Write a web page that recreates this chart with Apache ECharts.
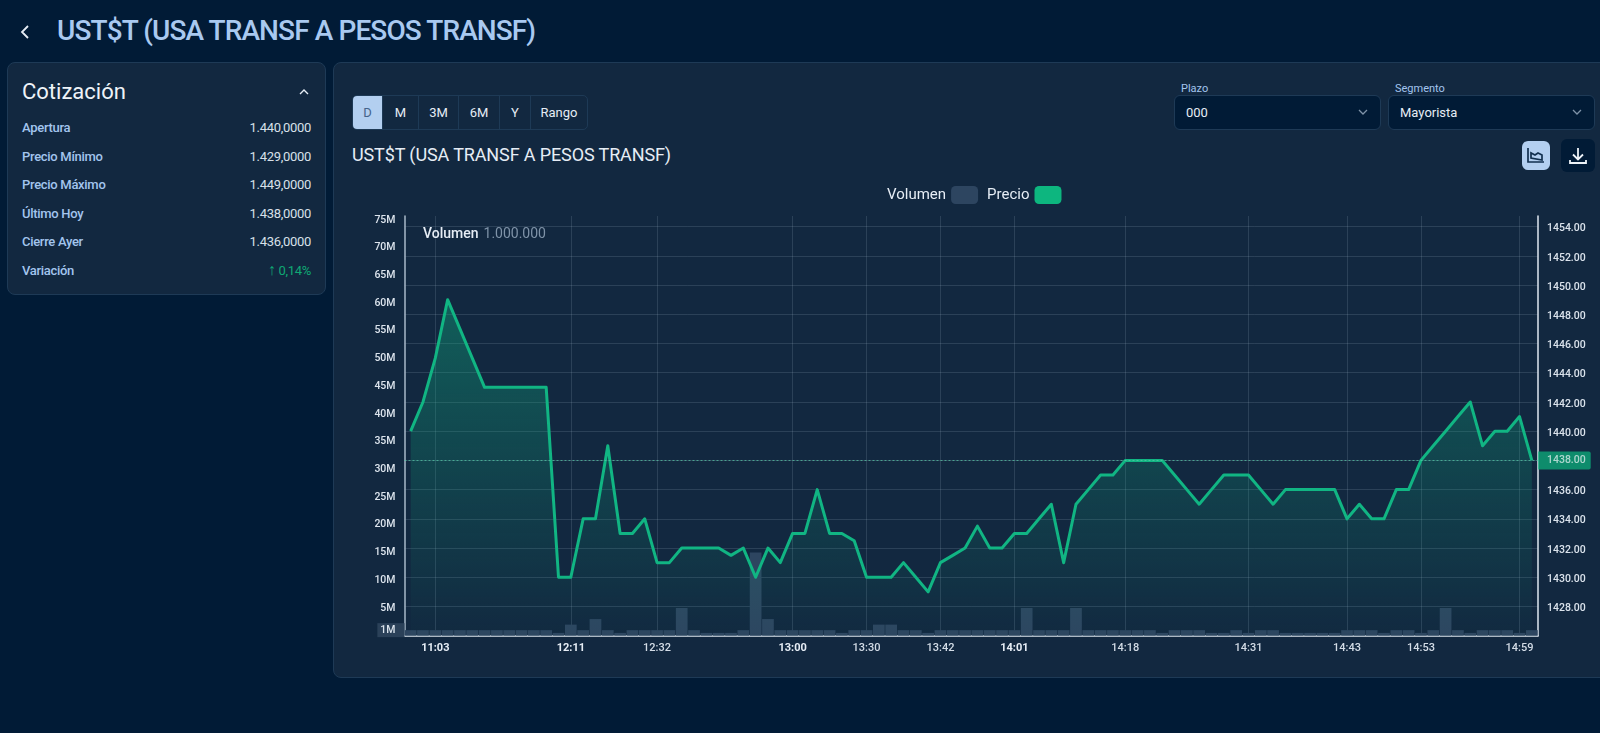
<!DOCTYPE html>
<html>
<head>
<meta charset="utf-8">
<title>UST$T</title>
<script src="https://cdn.jsdelivr.net/npm/echarts@6/dist/echarts.min.js"></script>
<style>
  html, body { margin: 0; padding: 0; width: 1600px; height: 733px; overflow: hidden; background: #011b36; font-family: Roboto, sans-serif; color: #e6edf5; }
  .abs { position: absolute; }
  .panel { position: absolute; background: #122840; border: 1px solid #1e3a56; border-radius: 8px; box-sizing: border-box; }
  .title { left: 57px; top: 12px; font-size: 28px; font-weight: 500; line-height: 38px; letter-spacing: -0.9px; color: #a9c9f0; white-space: nowrap; }
  .row { position: absolute; left: 22px; width: 289px; height: 20px; line-height: 20px; font-size: 13px; }
  .row b { font-weight: 500; letter-spacing: -0.3px; color: #a3c5ee; }
  .row span { position: absolute; right: 0; top: 0; letter-spacing: -0.3px; color: #d8e0e9; }
  .row i { font-style: normal; font-size: 16px; line-height: 16px; }
  .btns { left: 352px; top: 95px; width: 236px; height: 35px; border: 1px solid #1e3a56; border-radius: 5px; box-sizing: border-box; display: flex; font-size: 13px; }
  .btns div { text-align: center; line-height: 33px; border-right: 1px solid #1e3a56; box-sizing: border-box; color: #e6edf5; }
  .btns div:last-child { border-right: 0; }
  .btns .on { background: #b3cff0; color: #44638a; border-radius: 4px 0 0 4px; }
  .lab { font-size: 11px; color: #a3c5ee; top: 82px; }
  .sel { top: 95px; width: 207px; height: 35px; background: #011b36; border: 1px solid #1e3a56; border-radius: 6px; box-sizing: border-box; line-height: 33px; font-size: 13px; text-indent: 11px; color: #e6edf5; }
  .sel svg { position: absolute; right: 11px; top: 12px; }
  .sub { left: 352px; top: 143px; font-size: 18px; line-height: 24px; letter-spacing: -0.12px; color: #e6edf5; white-space: nowrap; }
  .ico { border-radius: 6px; display: flex; align-items: center; justify-content: center; }
  #chart { position: absolute; left: 340px; top: 175px; width: 1260px; height: 505px; }
</style>
</head>
<body>
<svg class="abs" style="left:19px;top:23px" width="12" height="18" viewBox="0 0 12 18"><path d="M9 3L3 9l6 6" fill="none" stroke="#e6edf5" stroke-width="1.8"/></svg>
<div class="abs title">UST$T (USA TRANSF A PESOS TRANSF)</div>

<div class="panel" style="left:7px;top:62px;width:319px;height:233px"></div>
<div class="abs" style="left:22px;top:77px;font-size:22px;line-height:30px;color:#eef3f8">Cotización</div>
<svg class="abs" style="left:298px;top:88px" width="12" height="8" viewBox="0 0 12 8"><path d="M2 6l4-4 4 4" fill="none" stroke="#e6edf5" stroke-width="1.4"/></svg>
<div id="rows"></div>

<div class="panel" style="left:333px;top:62px;width:1280px;height:616px"></div>
<div class="abs btns">
  <div class="on" style="width:30px">D</div>
  <div style="width:36px">M</div>
  <div style="width:40px">3M</div>
  <div style="width:41px">6M</div>
  <div style="width:31px">Y</div>
  <div style="width:56px">Rango</div>
</div>
<div class="abs lab" style="left:1181px">Plazo</div>
<div class="abs lab" style="left:1395px">Segmento</div>
<div class="abs sel" style="left:1174px">000<svg width="12" height="8" viewBox="0 0 12 8"><path d="M2 2l4 4 4-4" fill="none" stroke="#7f93a8" stroke-width="1.3"/></svg></div>
<div class="abs sel" style="left:1388px">Mayorista<svg width="12" height="8" viewBox="0 0 12 8"><path d="M2 2l4 4 4-4" fill="none" stroke="#7f93a8" stroke-width="1.3"/></svg></div>
<div class="abs sub">UST$T (USA TRANSF A PESOS TRANSF)</div>
<div class="abs ico" style="left:1522px;top:141px;width:28px;height:29px;background:#b3cff0">
  <svg width="20" height="20" viewBox="0 0 20 20"><path d="M2 2v14h16M5 12V7l4 2 3-2 4 2v5z" fill="none" stroke="#12304f" stroke-width="1.7"/></svg>
</div>
<div class="abs ico" style="left:1561px;top:139px;width:34px;height:33px;background:#011b36">
  <svg width="22" height="22" viewBox="0 0 22 22"><path d="M11 3v11M6 9.500l5 5 5-5M3 15v3h16v-3" fill="none" stroke="#eef3f8" stroke-width="1.8"/></svg>
</div>

<div id="chart"></div>

<script>
// cuadro cotización
var quoteLabels = ['Apertura', 'Precio Mínimo', 'Precio Máximo', 'Último Hoy', 'Cierre Ayer', 'Variación'];
var quoteValues = ['1.440,0000', '1.429,0000', '1.449,0000', '1.438,0000', '1.436,0000', '<i>↑</i> 0,14%'];

// horario, solo las marcas con texto
var categories = [
  '', '', '11:03', '', '', '', '', '', '', '', '', '', '', '12:11', '', '', '', '', '', '', '12:32', '', '', '',
  '', '', '', '', '', '', '', '13:00', '', '', '', '', '', '13:30', '', '', '', '', '', '13:42', '', '', '', '',
  '', '14:01', '', '', '', '', '', '', '', '', '14:18', '', '', '', '', '', '', '', '', '', '14:31', '', '', '',
  '', '', '', '', '14:43', '', '', '', '', '', '14:53', '', '', '', '', '', '', '', '14:59', ''
];
var boldTimes = ['11:03', '12:11', '13:00', '14:01'];

var priceValues = [
  1440, 1442, 1445, 1449, 1447, 1445, 1443, 1443, 1443, 1443, 1443, 1443,
  1430, 1430, 1434, 1434, 1439, 1433, 1433, 1434, 1431, 1431, 1432, 1432,
  1432, 1432, 1431.5, 1432, 1430, 1432, 1431, 1433, 1433, 1436, 1433, 1433,
  1432.5, 1430, 1430, 1430, 1431, 1430, 1429, 1431, 1431.5, 1432, 1433.5, 1432,
  1432, 1433, 1433, 1434, 1435, 1431, 1435, 1436, 1437, 1437, 1438, 1438,
  1438, 1438, 1437, 1436, 1435, 1436, 1437, 1437, 1437, 1436, 1435, 1436,
  1436, 1436, 1436, 1436, 1434, 1435, 1434, 1434, 1436, 1436, 1438, 1439,
  1440, 1441, 1442, 1439, 1440, 1440, 1441, 1438
];

var volumeValues = [
  1, 1, 1, 1, 1, 1, 1, 1, 1, 1, 1, 1,
  0.5, 2, 1, 3, 1, 0.5, 1, 1, 1, 1, 5, 1,
  0.5, 0.5, 0.5, 1, 15, 3, 1, 1, 1, 1, 1, 0.5,
  1, 1, 2, 2, 1, 1, 0.5, 1, 1, 1, 1, 1,
  1, 1, 5, 1, 1, 1, 5, 1, 1, 1, 1, 1,
  1, 0.5, 1, 1, 1, 0.5, 0.5, 1, 0.5, 1, 1, 0.5,
  0.5, 0.5, 0.5, 0.5, 1, 1, 1, 0.5, 1, 1, 0.5, 1,
  5, 1, 0.5, 1, 1, 1, 0.5, 1
];

var volumeTicks = [1, 5, 10, 15, 20, 25, 30, 35, 40, 45, 50, 55, 60, 65, 70, 75];
var lastPrice = 1438;

var rowTops = [118, 147, 175, 204, 232, 261];
var rowsHtml = '';
for (var i = 0; i < quoteLabels.length; i++) {
  rowsHtml += '<div class="row" style="top:' + rowTops[i] + 'px"><b>' + quoteLabels[i] + '</b>' +
    '<span' + (i === 5 ? ' style="color:#0fa874"' : '') + '>' + quoteValues[i] + '</span></div>';
}
document.getElementById('rows').innerHTML = rowsHtml;

var gridLineStyle = { color: 'rgba(190,210,230,0.15)', width: 1 };

var option = {
  animation: false,
  title: {
    text: '{a|Volumen} {b|1.000.000}',
    left: 78,
    top: 45,
    textStyle: {
      fontWeight: 'normal',
      rich: {
        a: { fontFamily: 'Roboto', fontSize: 14, fontWeight: 500, color: '#e6edf5' },
        b: { fontFamily: 'Roboto', fontSize: 14, fontWeight: 400, color: '#7f93a8' },
      },
    },
  },
  legend: {
    left: 542,
    top: 6,
    align: 'right',
    icon: 'roundRect',
    itemWidth: 27,
    itemHeight: 18,
    itemGap: 9,
    textStyle: { fontFamily: 'Roboto', fontSize: 15, color: '#e6edf5' },
    data: ['Volumen', 'Precio'],
  },
  grid: { left: 64.5, right: 62, top: 41, bottom: 44.3 },
  xAxis: {
    type: 'category',
    data: categories,
    axisLine: { show: true, lineStyle: { color: '#dfe7f0', width: 1.5 } },
    axisTick: { show: false },
    axisLabel: {
      interval: 0,
      margin: 7,
      hideOverlap: false,
      formatter: function (value) {
        if (!value) return '';
        return boldTimes.indexOf(value) >= 0 ? '{b|' + value + '}' : '{n|' + value + '}';
      },
      rich: {
        b: { fontFamily: 'Roboto', fontSize: 11, fontWeight: 700, color: '#e6edf5' },
        n: { fontFamily: 'Roboto', fontSize: 11, fontWeight: 500, color: '#d3dce6' },
      },
    },
    splitLine: {
      show: true,
      alignWithLabel: true,
      interval: function (index, value) {
        return value !== '';
      },
      lineStyle: gridLineStyle,
    },
  },
  yAxis: [
    {
      type: 'value',
      min: 0,
      max: 75.7,
      position: 'left',
      axisLine: { show: true, lineStyle: { color: '#a9b8c8', width: 1.5 } },
      axisTick: { show: false },
      splitLine: { show: false },
      axisLabel: {
        customValues: volumeTicks,
        margin: 0,
        formatter: function (value) {
          return value === 1 ? '{box|1M}' : '{t|' + value + 'M}';
        },
        rich: {
          t: {
            fontFamily: 'Roboto', fontSize: 10.5, fontWeight: 500, color: '#dbe3ec',
            padding: [0, 9, 0, 0],
          },
          box: {
            fontFamily: 'Roboto', fontSize: 10.5, fontWeight: 500, color: '#dbe3ec',
            backgroundColor: '#2b4159', padding: [2, 9, 1, 3],
          },
        },
      },
    },
    {
      type: 'value',
      min: 1426,
      max: 1454.73,
      interval: 2,
      position: 'right',
      axisLine: { show: true, lineStyle: { color: '#dfe7f0', width: 1.5 } },
      axisTick: { show: false },
      splitLine: { show: true, showMinLine: false, showMaxLine: false, lineStyle: gridLineStyle },
      axisLabel: {
        showMinLabel: false,
        showMaxLabel: false,
        margin: 9,
        formatter: function (value) {
          // el último precio va en la etiqueta verde
          if (value === lastPrice) return '';
          return '{p|' + value.toFixed(2) + '}';
        },
        rich: {
          p: {
            fontFamily: 'Roboto', fontSize: 10.5, fontWeight: 500, color: '#dbe3ec',
            padding: [4, 0, 0, 0],
          },
        },
      },
    },
  ],
  series: [
    {
      name: 'Volumen',
      type: 'bar',
      yAxisIndex: 0,
      barCategoryGap: '5%',
      itemStyle: { color: '#2d4560' },
      data: volumeValues,
    },
    {
      name: 'Precio',
      type: 'line',
      yAxisIndex: 1,
      symbol: 'none',
      itemStyle: { color: '#0db67f' },
      lineStyle: { color: '#11b583', width: 3, join: 'round' },
      areaStyle: {
        origin: 'start',
        color: {
          type: 'linear',
          x: 0,
          y: 0,
          x2: 0,
          y2: 1,
          colorStops: [
            { offset: 0, color: 'rgba(17,181,131,0.55)' },
            { offset: 1, color: 'rgba(17,181,131,0.02)' },
          ],
        },
      },
      markLine: {
        silent: true,
        symbol: 'none',
        lineStyle: { color: '#58c9a6', type: [2, 2], width: 1, opacity: 0.7 },
        label: {
          position: 'end',
          distance: 0,
          formatter: function (params) {
            return params.value.toFixed(2);
          },
          fontFamily: 'Roboto',
          fontSize: 10.5,
          fontWeight: 500,
          color: '#f1f6f8',
          backgroundColor: '#0db67f',
          padding: [4, 5, 3, 9],
          borderRadius: [0, 2, 2, 0],
        },
        data: [{ yAxis: lastPrice }],
      },
      data: priceValues,
    },
  ],
};

var priceChart = echarts.init(document.getElementById('chart'));
priceChart.setOption(option);
</script>
</body>
</html>
